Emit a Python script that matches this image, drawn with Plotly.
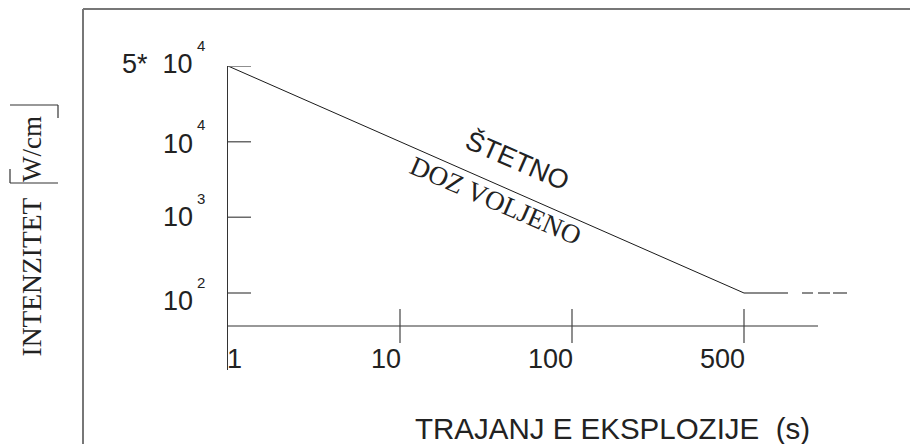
import plotly.graph_objects as go

W, H = 910, 444

# ---------------- data (read from the schematic) ----------------
x_tick_values = [1, 10, 100, 500]              # explosion duration (s), equally spaced ticks
x_tick_labels = ["1", "10", "100", "500"]
y_tick_values = [1e2, 1e3, 1e4, 5e4]           # intensity (W/cm2), equally spaced ticks
y_tick_bases = ["10", "10", "10", "5*&nbsp; 10"]
y_tick_exps = ["2", "3", "4", "4"]

limit_duration = [1, 500]                      # s
limit_intensity = [5e4, 1e2]                   # W/cm2

# ---------------- helpers ----------------
def xpos(v):
    return x_tick_values.index(v)

def ypos(v):
    return y_tick_values.index(v)

def fx(px):
    return px / W

def fy(py):
    return 1 - py / H

X_PX_PER_UNIT = 172.0
Y_PX_PER_UNIT = 75.67
X_AXIS_Y = -(326 - 293) / Y_PX_PER_UNIT        # where the horizontal axis crosses
X_AXIS_END = (818 - 228) / X_PX_PER_UNIT
TAIL_END = (848 - 228) / X_PX_PER_UNIT

TXT = "#222222"
SANS = "Liberation Sans, Arial, sans-serif"
SERIF = "Liberation Serif, Times New Roman, serif"

fig = go.Figure()

# limiting line
fig.add_trace(go.Scatter(
    x=[xpos(v) for v in limit_duration],
    y=[ypos(v) for v in limit_intensity],
    mode="lines", line=dict(color="#1a1a1a", width=1),
    hoverinfo="skip", showlegend=False))

# continuation beyond 500 s at the same level
fig.add_trace(go.Scatter(
    x=[xpos(limit_duration[-1]), TAIL_END],
    y=[ypos(limit_intensity[-1])] * 2,
    mode="lines",
    line=dict(color="#8a8a8a", width=2, dash="44px,14px,11px,5px,12px,3px,14px"),
    hoverinfo="skip", showlegend=False))

shapes = []
# outer frame (left and top)
shapes.append(dict(type="line", xref="paper", yref="paper", x0=fx(83), x1=fx(83),
                   y0=0, y1=fy(9), line=dict(color="#777777", width=2)))
shapes.append(dict(type="line", xref="paper", yref="paper", x0=fx(83), x1=1,
                   y0=fy(9), y1=fy(9), line=dict(color="#777777", width=2)))
# horizontal axis line
shapes.append(dict(type="line", xref="x", yref="y", x0=0, x1=X_AXIS_END,
                   y0=X_AXIS_Y, y1=X_AXIS_Y, line=dict(color="#333333", width=1.2)))
# y ticks (crossing)
for v in y_tick_values:
    p = ypos(v)
    shapes.append(dict(type="line", xref="x", xsizemode="pixel", xanchor=0, x0=-16, x1=23,
                       yref="y", y0=p, y1=p, line=dict(color="#6a6a6a", width=1.5)))
# x ticks (crossing), none at the origin
for v in x_tick_values[1:]:
    p = xpos(v)
    shapes.append(dict(type="line", xref="x", x0=p, x1=p, yref="y", ysizemode="pixel",
                       yanchor=X_AXIS_Y, y0=-17, y1=17, line=dict(color="#444444", width=1.2)))
# brackets around the unit
shapes += [
    dict(type="line", xref="paper", yref="paper", x0=fx(10), x1=fx(58), y0=fy(183), y1=fy(183),
         line=dict(color="#333333", width=1.2)),
    dict(type="line", xref="paper", yref="paper", x0=fx(10), x1=fx(10), y0=fy(183), y1=fy(169),
         line=dict(color="#333333", width=1.2)),
    dict(type="line", xref="paper", yref="paper", x0=fx(10), x1=fx(58), y0=fy(105), y1=fy(105),
         line=dict(color="#333333", width=1.2)),
    dict(type="line", xref="paper", yref="paper", x0=fx(58), x1=fx(58), y0=fy(105), y1=fy(118),
         line=dict(color="#333333", width=1.2)),
]

ann = []
# y tick labels
y_label_shift = [-8, 0, -2, 2]
for v, b, e, s in zip(y_tick_values, y_tick_bases, y_tick_exps, y_label_shift):
    p = ypos(v)
    ann.append(dict(xref="x", yref="y", x=0, y=p, xshift=-34, yshift=s, xanchor="right",
                    yanchor="middle", text=b, showarrow=False, borderpad=0,
                    font=dict(family=SANS, size=27, color=TXT)))
    ann.append(dict(xref="x", yref="y", x=0, y=p, xshift=-32, yshift=s + 19, xanchor="left",
                    yanchor="middle", text=e, showarrow=False, borderpad=0,
                    font=dict(family=SANS, size=15, color=TXT)))
# x tick labels
for i, (v, t) in enumerate(zip(x_tick_values, x_tick_labels)):
    p = xpos(v)
    ann.append(dict(xref="x", yref="y", x=p, y=X_AXIS_Y, yshift=-33,
                    xanchor="left" if i == 0 else "right", xshift=-2 if i == 0 else 2,
                    yanchor="middle", text=t, showarrow=False, borderpad=0,
                    font=dict(family=SANS, size=27, color=TXT)))
# axis titles
ann.append(dict(xref="paper", yref="paper", x=fx(612), y=fy(428), xanchor="center", yanchor="middle",
                text="TRAJANJ E EKSPLOZIJE&nbsp; (s)", showarrow=False, borderpad=0,
                font=dict(family=SANS, size=29.5, color=TXT)))
ann.append(dict(xref="paper", yref="paper", x=fx(31), y=fy(277.5), xanchor="center", yanchor="middle",
                text="INTENZITET", textangle=-90, showarrow=False, borderpad=0,
                font=dict(family=SERIF, size=27.5, color=TXT)))
ann.append(dict(xref="paper", yref="paper", x=fx(32), y=fy(149), xanchor="center", yanchor="middle",
                text="W/cm", textangle=-90, showarrow=False, borderpad=0,
                font=dict(family=SERIF, size=27, color=TXT)))
# region labels along the limit line
ann.append(dict(xref="paper", yref="paper", x=fx(518), y=fy(160), xanchor="center", yanchor="middle",
                text="ŠTETNO", textangle=23.5, showarrow=False, borderpad=0,
                font=dict(family=SANS, size=27, color=TXT)))
ann.append(dict(xref="paper", yref="paper", x=fx(496), y=fy(201), xanchor="center", yanchor="middle",
                text="DOZ VOLJENO", textangle=23.5, showarrow=False, borderpad=0,
                font=dict(family=SERIF, size=27, color=TXT)))

fig.update_layout(
    width=W, height=H,
    margin=dict(l=0, r=0, t=0, b=0),
    paper_bgcolor="white", plot_bgcolor="white",
    showlegend=False,
    xaxis=dict(domain=[fx(228), fx(850)], range=[0, (850 - 228) / X_PX_PER_UNIT],
               showgrid=False, zeroline=False, showline=False, showticklabels=False, ticks=""),
    yaxis=dict(domain=[1 - 370 / H, 1 - 66 / H], range=[-(370 - 293) / Y_PX_PER_UNIT, 3],
               showgrid=False, zeroline=False, showline=True, linecolor="#333333", linewidth=1.2,
               showticklabels=False, ticks="", anchor="x"),
    shapes=shapes,
    annotations=ann,
)

fig.write_html(
    "out.html",
    config={"displayModeBar": False},
    post_script="document.body.style.margin='0';document.body.style.overflow='hidden';",
)
